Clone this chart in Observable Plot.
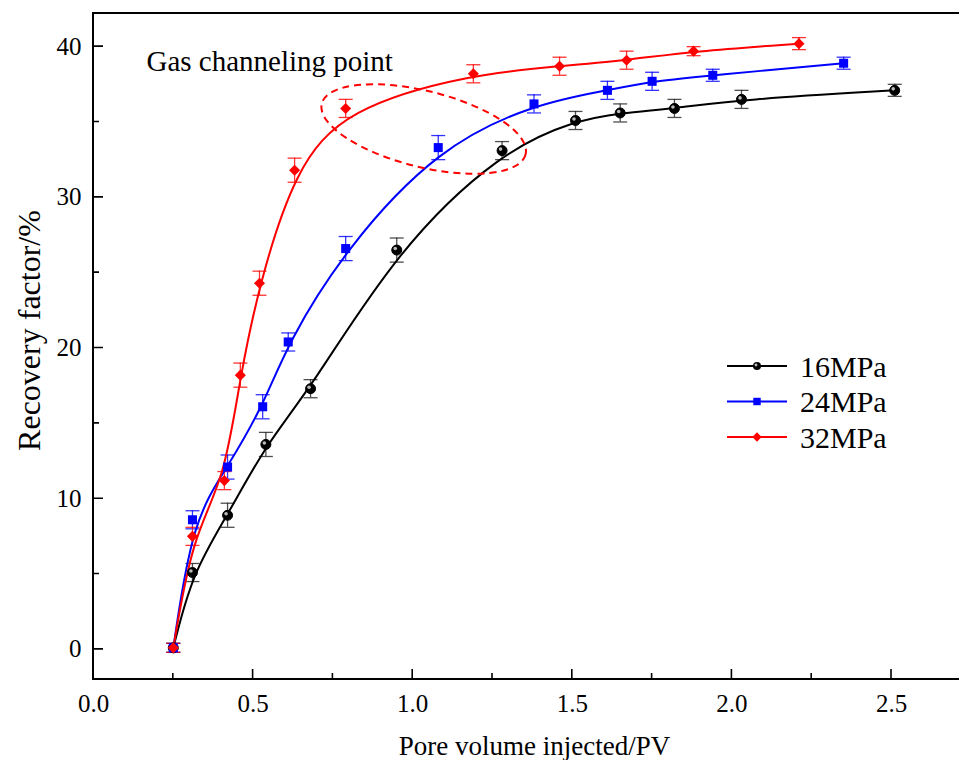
<!DOCTYPE html>
<html><head><meta charset="utf-8">
<script src="https://cdn.jsdelivr.net/npm/d3@7"></script>
<script src="https://cdn.jsdelivr.net/npm/@observablehq/plot@0.6"></script>
<style>
body{margin:0;background:#fff;font-family:"Liberation Serif","Times New Roman",serif;}
#wrap{position:relative;width:959px;height:760px;overflow:hidden;}
#legend{position:absolute;left:720px;top:345px;}
</style></head><body><div id="wrap"></div>
<script>
// ---- data ----
const series = ["16MPa", "24MPa", "32MPa"];
const colors = ["#000000", "#0000ff", "#ff0000"];
const symbols = ["circle", "square", "diamond2"];

const pv16 = [0.25, 0.31, 0.42, 0.54, 0.68, 0.95, 1.28, 1.51, 1.65, 1.82, 2.03, 2.51];
const rf16 = [0.1, 5.1, 8.9, 13.6, 17.3, 26.5, 33.1, 35.1, 35.6, 35.9, 36.5, 37.1];
const err16 = [0.3, 0.6, 0.8, 0.8, 0.6, 0.8, 0.6, 0.6, 0.6, 0.6, 0.6, 0.4];

const pv24 = [0.25, 0.31, 0.42, 0.53, 0.61, 0.79, 1.08, 1.38, 1.61, 1.75, 1.94, 2.35];
const rf24 = [0.1, 8.6, 12.1, 16.1, 20.4, 26.6, 33.3, 36.2, 37.1, 37.7, 38.1, 38.9];
const err24 = [0.3, 0.6, 0.8, 0.8, 0.6, 0.8, 0.8, 0.6, 0.6, 0.6, 0.4, 0.4];

const pv32 = [0.25, 0.31, 0.41, 0.46, 0.52, 0.63, 0.79, 1.19, 1.46, 1.67, 1.88, 2.21];
const rf32 = [0.1, 7.5, 11.2, 18.2, 24.3, 31.8, 35.9, 38.2, 38.7, 39.1, 39.7, 40.2];
const err32 = [0.3, 0.6, 0.6, 0.8, 0.8, 0.8, 0.6, 0.6, 0.6, 0.6, 0.3, 0.4];

const xTicks = [0, 0.5, 1.0, 1.5, 2.0, 2.5];
const xMinor = [0.25, 0.75, 1.25, 1.75, 2.25];
const yTicks = [0, 10, 20, 30, 40];
const yMinor = [5, 15, 25, 35];

const xLabel = "Pore volume injected/PV";
const yLabel = "Recovery factor/%";
const annotation = "Gas channeling point";
const annotationPos = {x: 0.166, y: 39.0};
const ellipse = {cx: 1.036, cy: 34.5, rx: 105, ry: 38, angle: 14};

// ---- build rows ----
const cols = [[pv16, rf16, err16], [pv24, rf24, err24], [pv32, rf32, err32]];
const rows = cols.flatMap(([xs, ys, es], i) => xs.map((x, j) => ({s: series[i], x, y: ys[j], e: es[j]})));

const capSymbol = {draw(ctx, size) { const r = Math.sqrt(size / Math.PI); ctx.moveTo(-r, 0); ctx.lineTo(r, 0); }};

const decor = (index, scales, values, dims) => {
  const {x, y} = scales;
  const {marginLeft: l, marginTop: t, width: w, height: h, marginBottom: b} = dims;
  const bot = h - b;
  const g = d3.create("svg:g").attr("fill", "none").attr("stroke", "#000");
  g.append("path").attr("stroke-width", 2)
    .attr("d", `M${l},${t}H${w}M${l},${t - 1}V${bot}H${w}`);
  const tk = g.append("path").attr("stroke-width", 1.6);
  let d = "";
  for (const v of xTicks) d += `M${x(v)},${bot}V${bot - 10}`;
  for (const v of xMinor) d += `M${x(v)},${bot}V${bot - 6}`;
  for (const v of yTicks) d += `M${l},${y(v)}H${l + 10}`;
  for (const v of yMinor) d += `M${l},${y(v)}H${l + 6}`;
  tk.attr("d", d);
  // ellipse annotation
  g.append("ellipse")
    .attr("transform", `translate(${x(ellipse.cx)},${y(ellipse.cy)}) rotate(${ellipse.angle})`)
    .attr("rx", ellipse.rx).attr("ry", ellipse.ry)
    .attr("stroke", "#ff0000").attr("stroke-width", 2).attr("stroke-dasharray", "7,5");
  return g.node();
};

const marks = [];
series.forEach((s, i) => {
  const data = rows.filter(r => r.s === s);
  const c = colors[i];
  const ec = i === 0 ? "#222" : c;
  marks.push(Plot.ruleX(data, {x: "x", y1: d => d.y - d.e, y2: d => d.y + d.e, stroke: ec, strokeWidth: 1.3, strokeOpacity: 0.8}));
  marks.push(Plot.dot(data, {x: "x", y: d => d.y - d.e, symbol: capSymbol, r: 7, stroke: ec, strokeWidth: 1.3, strokeOpacity: 0.8}));
  marks.push(Plot.dot(data, {x: "x", y: d => d.y + d.e, symbol: capSymbol, r: 7, stroke: ec, strokeWidth: 1.3, strokeOpacity: 0.8}));
});
series.forEach((s, i) => {
  const data = rows.filter(r => r.s === s);
  marks.push(Plot.line(data, {x: "x", y: "y", stroke: colors[i], strokeWidth: 2, curve: "basis"}));
});
series.forEach((s, i) => {
  const data = rows.filter(r => r.s === s);
  const c = colors[i];
  if (i === 0) {
    marks.push(Plot.dot(data, {x: "x", y: "y", r: 5, fill: "#000", stroke: "#000", strokeWidth: 1}));
    marks.push(Plot.dot(data, {x: "x", y: "y", r: 1.8, fill: "#bbb", dx: -1.5, dy: -1.5}));
  } else {
    marks.push(Plot.dot(data, {x: "x", y: "y", symbol: symbols[i], r: i === 1 ? 5.1 : 5, fill: c, stroke: "none"}));
  }
});
marks.push(decor);
marks.push(Plot.text([annotation], {x: () => annotationPos.x, y: () => annotationPos.y, text: d => d, textAnchor: "start", fontSize: 29, fill: "#000"}));
marks.push(Plot.text([xLabel], {frameAnchor: "bottom", text: d => d, textAnchor: "middle", dx: 8, dy: 67, lineAnchor: "middle", fontSize: 27, fill: "#000"}));
marks.push(Plot.text([yLabel], {frameAnchor: "left", text: d => d, textAnchor: "middle", rotate: -90, dx: -64, dy: -16, lineAnchor: "middle", fontSize: 32, fill: "#000"}));

const chart = Plot.plot({
  width: 959,
  height: 760,
  marginLeft: 93,
  marginRight: 0,
  marginTop: 13,
  marginBottom: 81,
  style: {fontFamily: "'Liberation Serif', 'Times New Roman', serif", fontSize: "25px", color: "#000", background: "#fff", overflow: "visible"},
  x: {domain: [0, 2.713], ticks: xTicks, tickSize: 0, tickPadding: 15, tickFormat: d => d.toFixed(1), label: null},
  y: {domain: [-2, 42.2], ticks: yTicks, tickSize: 0, tickPadding: 12, tickFormat: d => String(d), label: null},
  marks
});
const wrap = document.getElementById("wrap");
wrap.appendChild(chart);

// ---- legend ----
const lg = d3.select(wrap).append("svg").attr("id", "legend").attr("width", 230).attr("height", 120);
series.forEach((s, i) => {
  const yy = 21 + i * 35.5;
  const c = colors[i];
  lg.append("line").attr("x1", 7).attr("x2", 67).attr("y1", yy).attr("y2", yy).attr("stroke", c).attr("stroke-width", 2);
  if (i === 0) {
    lg.append("circle").attr("cx", 37).attr("cy", yy).attr("r", 4).attr("fill", "#000");
    lg.append("circle").attr("cx", 36).attr("cy", yy - 1).attr("r", 1.4).attr("fill", "#bbb");
  } else {
    const sym = i === 1 ? d3.symbolSquare : d3.symbolDiamond2;
    lg.append("path").attr("transform", `translate(37,${yy})`).attr("d", d3.symbol(sym, Math.PI * 4.2 * 4.2)()).attr("fill", c);
  }
  lg.append("text").attr("x", 80).attr("y", yy).attr("dy", "0.35em").attr("font-size", 30)
    .attr("font-family", "'Liberation Serif', 'Times New Roman', serif").attr("fill", "#000").text(s);
});
</script>
</body></html>
